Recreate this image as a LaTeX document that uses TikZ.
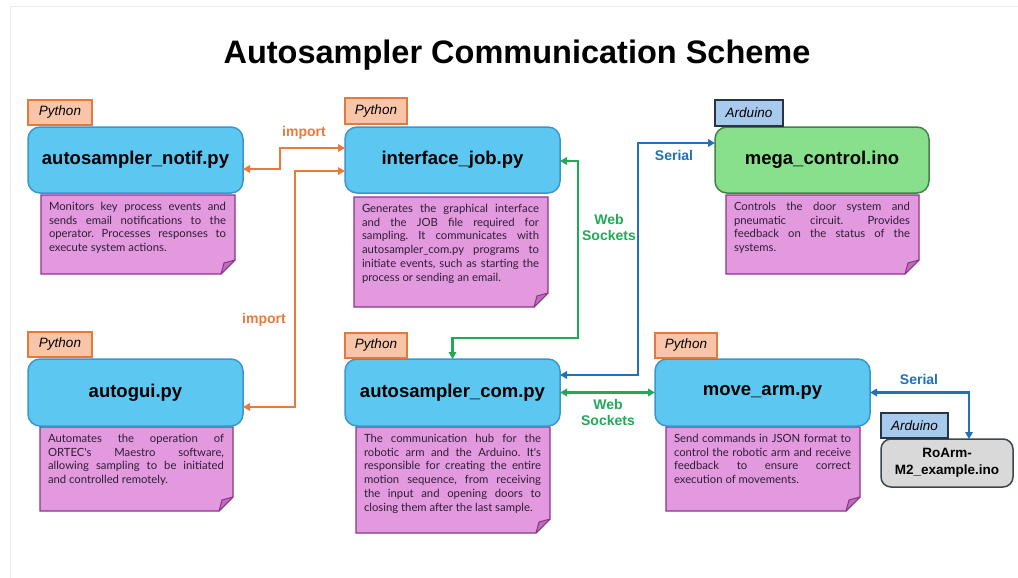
\documentclass[tikz,border=0pt]{standalone}
\usepackage{fontspec}
\setmainfont{Liberation Sans}
\newfontfamily\notefont{Lato}
\usetikzlibrary{arrows.meta,calc}
\frenchspacing
\definecolor{boxblue}{RGB}{92,200,241}
\definecolor{boxblueline}{RGB}{58,150,205}
\definecolor{boxgreen}{RGB}{137,224,140}
\definecolor{boxgreenline}{RGB}{66,130,72}
\definecolor{pyfill}{RGB}{248,197,168}
\definecolor{pyline}{RGB}{226,122,62}
\definecolor{ardfill}{RGB}{168,202,236}
\definecolor{ardline}{RGB}{38,52,72}
\definecolor{notefill}{RGB}{227,153,222}
\definecolor{noteline}{RGB}{140,52,140}
\definecolor{foldfill}{RGB}{185,112,185}
\definecolor{grayfill}{RGB}{217,217,217}
\definecolor{grayline}{RGB}{60,70,80}
\definecolor{arrorange}{RGB}{232,122,60}
\definecolor{arrgreen}{RGB}{32,170,88}
\definecolor{arrblue}{RGB}{32,112,186}
\definecolor{notetext}{RGB}{45,30,55}
\newcommand\notebg[4]{%
  \filldraw[notestyle] (#1,#2) -- (#3,#2) -- (#3,#4-14) -- (#3-14,#4) -- (#1,#4) -- cycle;
  \filldraw[foldstyle] (#3,#4-14) -- (#3-14,#4) -- (#3-11,#4-11) -- cycle;}
\begin{document}
\begin{tikzpicture}[x=1pt,y=-1pt,
  mainbox/.style={draw=boxblueline, fill=boxblue, line width=1.5pt, rounded corners=12pt,
    minimum width=215pt, minimum height=66pt, outer sep=0pt, inner sep=0pt,
    font=\fontsize{18.5}{20}\selectfont\bfseries, text=black},
  greenbox/.style={mainbox, draw=boxgreenline, fill=boxgreen},
  graybox/.style={draw=grayline, fill=grayfill, line width=1.5pt, rounded corners=10pt,
    minimum width=132pt, minimum height=48pt, outer sep=0pt, inner sep=0pt, align=center,
    font=\fontsize{13.5}{17}\selectfont\bfseries},
  pytag/.style={draw=pyline, fill=pyfill, line width=1.3pt, minimum height=25pt,
    outer sep=0pt, inner sep=0pt, font=\fontsize{13.5}{15}\selectfont\itshape},
  ardtag/.style={pytag, draw=ardline, fill=ardfill},
  notestyle/.style={draw=noteline, fill=notefill, line width=1.2pt},
  foldstyle/.style={draw=noteline, fill=foldfill, line width=1pt, line join=round},
  notetxt/.style={anchor=north west, inner sep=0pt, outer sep=0pt, text=notetext, align=justify,
    font=\notefont\fontsize{11.3}{13.8}\selectfont\frenchspacing},
  conn/.style={line width=2.3pt, {Triangle[length=7pt,width=7.5pt]}-{Triangle[length=7pt,width=7.5pt]}},
  imp/.style={conn, draw=arrorange},
  wsk/.style={conn, draw=arrgreen},
  ser/.style={conn, draw=arrblue},
  lbl/.style={font=\fontsize{14}{17}\selectfont\bfseries, align=center, inner sep=0pt}
]
\useasboundingbox (0,0) rectangle (1018,578);
\fill[white] (0,0) rectangle (1018,578);
\draw[black!8, line width=1pt] (10,578) -- (10,7) -- (1018,7);

% title
\node[font=\fontsize{32.5}{36}\selectfont\bfseries] (title) at (517,55) {Autosampler Communication Scheme};

% notes (behind boxes)
\notebg{41}{195}{235}{274}
\node[notetxt, text width=177pt] (nnotif) at (49,202) {Monitors key process events and\linebreak sends email notifications to the\linebreak operator. Processes responses to\linebreak execute system actions.};
\notebg{354}{197}{548}{307}
\node[notetxt, text width=177pt] (njob) at (362,204) {Generates the graphical interface\linebreak and the JOB file required for\linebreak sampling. It communicates with\linebreak autosampler\_com.py programs to\linebreak initiate events, such as starting the\linebreak process or sending an email.};
\notebg{726}{195}{919}{274}
\node[notetxt, text width=176pt] (nmega) at (734,202) {Controls the door system and\linebreak pneumatic circuit. Provides\linebreak feedback on the status of the\linebreak systems.};
\notebg{40}{427}{233}{511}
\node[notetxt, text width=176pt] (ngui) at (48,434) {Automates the operation of\linebreak ORTEC's Maestro software,\linebreak allowing sampling to be initiated\linebreak and controlled remotely.};
\notebg{356}{427}{550}{533}
\node[notetxt, text width=177pt] (ncom) at (364,434) {The communication hub for the\linebreak robotic arm and the Arduino. It's\linebreak responsible for creating the entire\linebreak motion sequence, from receiving\linebreak the input and opening doors to\linebreak closing them after the last sample.};
\notebg{666}{427}{860}{511}
\node[notetxt, text width=177pt] (nmove) at (674,434) {Send commands in JSON format to\linebreak control the robotic arm and receive\linebreak feedback to ensure correct\linebreak execution of movements.};

% main boxes
\node[mainbox] (notif) at (135.5,160) {autosampler\_notif.py};
\node[mainbox] (job) at (452.5,160) {interface\_job.py};
\node[greenbox, minimum width=214pt] (mega) at (822,160) {mega\_control.ino};
\node[mainbox, minimum height=67pt] (autogui) at (135.5,392.5) {autogui.py};
\node[mainbox, minimum height=67pt] (com) at (452.5,392.5) {autosampler\_com.py};
\node[mainbox, minimum height=67pt] (move) at (762.5,392.5) {move\_arm.py};
\node[graybox] (roarm) at (947,463) {RoArm-\\M2\_example.ino};

% tags
\node[pytag, minimum width=64pt] (tnotif) at (60,112.5) {Python};
\node[pytag, minimum width=62pt, minimum height=26pt] (tjob) at (376,111) {Python};
\node[ardtag, minimum width=68pt, minimum height=26pt] (tmega) at (749,113) {Arduino};
\node[pytag, minimum width=64pt] (tgui) at (60,344.5) {Python};
\node[pytag, minimum width=62pt] (tcom) at (376,345.5) {Python};
\node[pytag, minimum width=62pt] (tmove) at (686,345.5) {Python};
\node[ardtag, minimum width=67pt] (troarm) at (914.5,425.5) {Arduino};

% connectors
\draw[imp] ([yshift=-9pt]notif.east) -- ++(37,0) |- ([yshift=12pt]job.west);
\draw[imp] ([yshift=-14.5pt]autogui.east) -- ++(52,0) |- ([yshift=-11pt]job.west);
\draw[wsk] ([yshift=-1pt]job.east) -| ++(18,177) -| (com.north);
\draw[ser] ([yshift=17.5pt]com.east) -- ++(78,0) |- ([yshift=17pt]mega.west);
\draw[wsk] (com.east) -- (move.west);
\draw[ser] (move.east) -| ([xshift=22pt]roarm.north);

% connector labels
\node[lbl, text=arrorange] (limp1) at (304,133) {import};
\node[lbl, text=arrorange] (limp2) at (264,320) {import};
\node[lbl, text=arrgreen] (lws1) at (609,227) {Web\\[-1pt]Sockets};
\node[lbl, text=arrgreen] (lws2) at (608,412) {Web\\[-1pt]Sockets};
\node[lbl, text=arrblue] (lser1) at (674,155) {Serial};
\node[lbl, text=arrblue] (lser2) at (919,379) {Serial};
\end{tikzpicture}
\end{document}
